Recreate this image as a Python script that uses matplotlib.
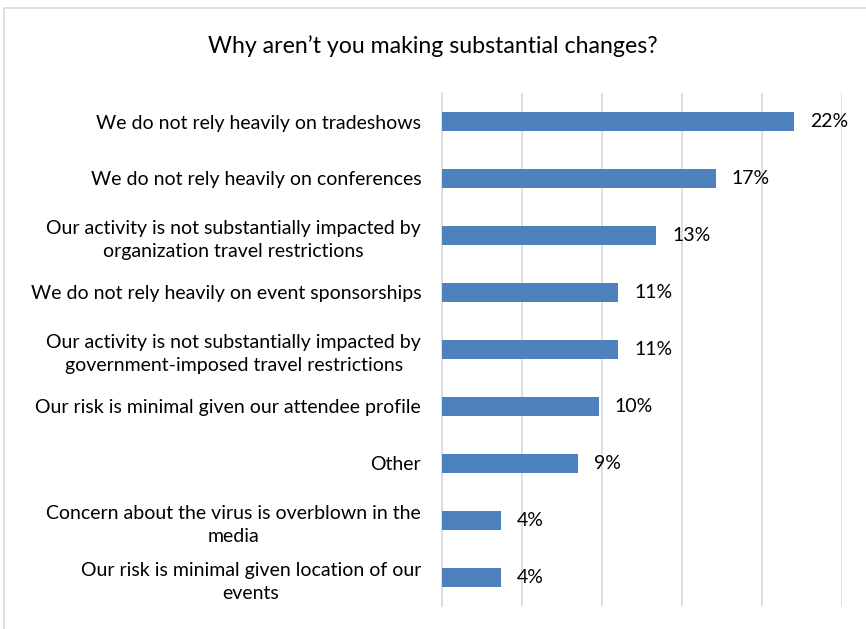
import numpy as np
import matplotlib.pyplot as plt
from matplotlib.patches import Rectangle

plt.rcParams['font.family'] = ['Lato', 'DejaVu Sans']

categories = [
    "We do not rely heavily on tradeshows",
    "We do not rely heavily on conferences",
    "Our activity is not substantially impacted by\norganization travel restrictions",
    "We do not rely heavily on event sponsorships",
    "Our activity is not substantially impacted by\ngovernment-imposed travel restrictions",
    "Our risk is minimal given our attendee profile",
    "Other",
    "Concern about the virus is overblown in the\nmedia",
    "Our risk is minimal given location of our\nevents",
]
values = [22.0, 17.1, 13.4, 11.0, 11.0, 9.8, 8.5, 3.7, 3.7]
labels = ["22%", "17%", "13%", "11%", "11%", "10%", "9%", "4%", "4%"]

fig = plt.figure(figsize=(8.66, 6.29), dpi=100)
ax = fig.add_axes([442/866, 1-606/629, 400/866, 513/629])

# outer chart frame
fig.patches.append(Rectangle((4/866, -0.1), 1.2, 1 - 8/629 + 0.1, transform=fig.transFigure,
                             fill=False, edgecolor='#d9d9d9', linewidth=1.2))

y = np.arange(len(categories))
ax.barh(y, values, height=0.35, color='#4f81bd', zorder=3)

for yi, v, lab in zip(y, values, labels):
    ax.text(v + 1.0, yi, lab, va='center', ha='left', fontsize=14, color='black')

ax.set_xlim(0, 25)
ax.set_ylim(len(categories) - 0.5, -0.5)
ax.set_xticks(np.arange(0, 26, 5))
ax.xaxis.grid(True, color='#d9d9d9', linewidth=1.2, zorder=0)
ax.tick_params(axis='x', length=0, labelbottom=False)
ax.tick_params(axis='y', length=0, pad=15)
ax.set_yticks(y)
ax.set_yticklabels(categories, fontsize=14, multialignment='center', linespacing=1.45)
for s in ['top', 'right', 'bottom']:
    ax.spines[s].set_visible(False)
ax.spines['left'].set_color('#d9d9d9')
ax.spines['left'].set_linewidth(1.2)

fig.text(433/866, 1-46/629, "Why aren\u2019t you making substantial changes?",
         ha='center', va='center', fontsize=16.7)

fig.savefig('out.png', dpi=100)
